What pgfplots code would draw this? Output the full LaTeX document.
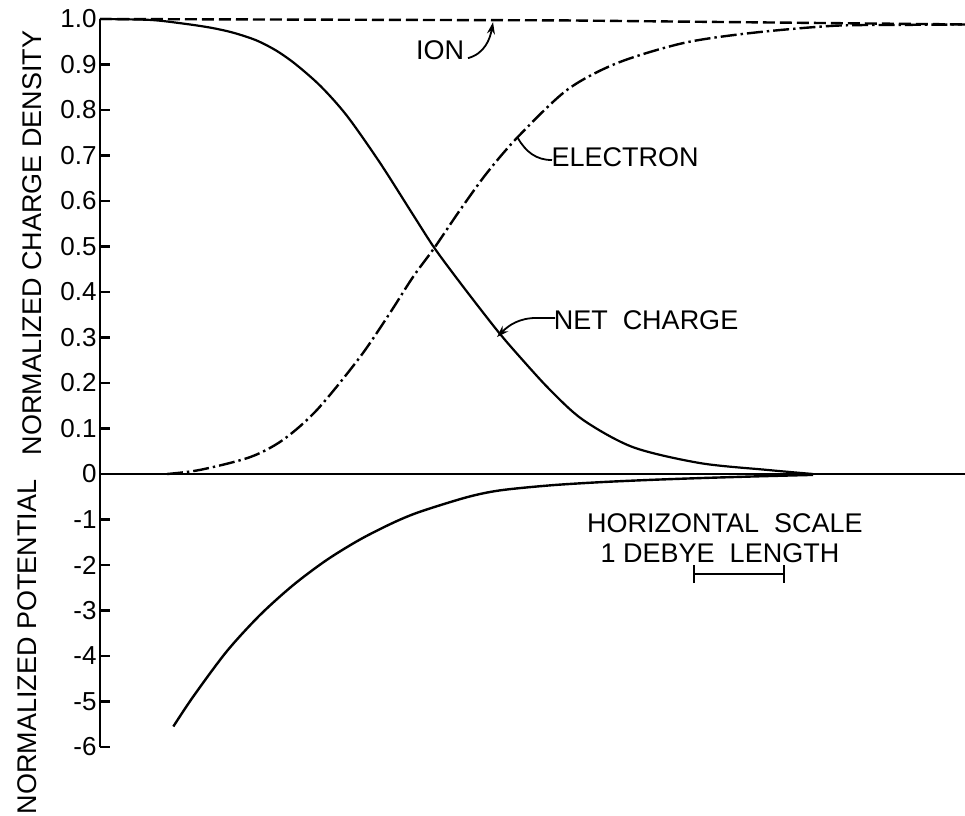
\documentclass[border=0pt]{standalone}
\usepackage{fontspec}
\setmainfont{Liberation Sans}
\usepackage{pgfplots}
\usepackage{pgfplotstable}
\pgfplotsset{compat=1.18}
\usetikzlibrary{arrows.meta}

% x in Debye lengths, v = normalized charge density
\pgfplotstableread{
x v
0.000 1.000
0.543 0.998
0.902 0.990
1.200 0.981
1.446 0.970
1.700 0.953
1.920 0.930
2.130 0.900
2.400 0.852
2.685 0.787
3.043 0.684
3.402 0.570
3.641 0.495
3.946 0.412
4.315 0.316
4.565 0.257
4.891 0.185
5.250 0.119
5.793 0.059
6.522 0.024
7.250 0.009
7.750 0.000
}\netcharge

\pgfplotstableread{
x v
0.728 0.000
1.087 0.009
1.630 0.037
1.989 0.075
2.359 0.141
2.826 0.257
3.152 0.354
3.402 0.433
3.641 0.499
3.913 0.580
4.207 0.662
4.543 0.741
5.076 0.844
5.620 0.903
6.337 0.947
7.065 0.969
7.967 0.985
8.696 0.987
9.400 0.988
}\electron

\pgfplotstableread{
x v
0.000 1.000
5.000 0.997
9.400 0.988
}\ion

% normalized potential
\pgfplotstableread{
x v
0.797 -5.55
1.014 -4.89
1.377 -3.90
1.739 -3.10
2.101 -2.44
2.464 -1.89
2.826 -1.44
3.188 -1.07
3.478 -0.83
3.989 -0.51
4.348 -0.36
4.891 -0.25
5.435 -0.18
5.978 -0.13
6.522 -0.09
7.174 -0.05
7.750 -0.02
}\potential

\begin{document}
\begin{tikzpicture}[font=\fontsize{13.5}{16}\selectfont]
\begin{axis}[
  at={(0,0)}, anchor=south west,
  x=46pt, y=22.75pt,
  xmin=0, xmax=9.4, ymin=-6, ymax=10,
  axis y line*=left, axis x line*=middle,
  axis line style={line width=1.3pt},
  xtick=\empty,
  ytick={-6,-5,-4,-3,-2,-1,0,1,2,3,4,5,6,7,8,9,10},
  yticklabels={-6,-5,-4,-3,-2,-1,0,0.1,0.2,0.3,0.4,0.5,0.6,0.7,0.8,0.9,1.0},
  /pgf/number format/assume math mode=true,
  yticklabel style={font=\fontsize{13}{15}\selectfont, inner xsep=1.5pt},
  tick align=inside,
  major tick length=5pt,
  tick style={line width=1.1pt, black},
  clip=false,
]
\addplot[black, line width=1.1pt, smooth] table[x=x, y expr=10*\thisrow{v}] {\netcharge};
\addplot[black, line width=1.2pt, smooth, dash pattern=on 8pt off 2pt on 1.2pt off 2pt] table[x=x, y expr=10*\thisrow{v}] {\electron};
\addplot[black, line width=1.2pt, dash pattern=on 6pt off 2.5pt] table[x=x, y expr=10*\thisrow{v}] {\ion};
\addplot[black, line width=1.2pt, smooth] table[x=x, y=v] {\potential};

% axis titles
\node[rotate=90] at (axis cs:-0.739,5.077) {NORMALIZED CHARGE DENSITY};
\node[rotate=90] at (axis cs:-0.793,-3.80) {NORMALIZED POTENTIAL};

% curve labels
\node at (axis cs:3.696,9.32) {ION};
\draw[line width=0.9pt, -{Stealth[length=6pt,width=4pt]}] (axis cs:4.0,9.14) to[out=15,in=-100] (axis cs:4.272,9.93);
\node at (axis cs:5.707,6.97) {ELECTRON};
\draw[line width=0.9pt] (axis cs:4.913,6.90) to[out=180,in=-60] (axis cs:4.543,7.38);
\node at (axis cs:5.935,3.38) {NET\ \ CHARGE};
\draw[line width=0.9pt, -{Stealth[length=6pt,width=4pt]}] (axis cs:4.946,3.43) -- (axis cs:4.75,3.43) to[out=180,in=45] (axis cs:4.315,3.01);

% horizontal scale
\node at (axis cs:6.793,-1.077) {HORIZONTAL\ \ SCALE};
\node at (axis cs:6.739,-1.736) {1 DEBYE\ \ LENGTH};
\draw[line width=1.1pt, {Bar[width=9pt]}-{Bar[width=9pt]}] (axis cs:6.446,-2.20) -- (axis cs:7.446,-2.20);
\end{axis}
\pgfresetboundingbox
\path[use as bounding box] (-50pt,-34pt) rectangle (432.5pt,373.5pt);
\end{tikzpicture}
\end{document}
